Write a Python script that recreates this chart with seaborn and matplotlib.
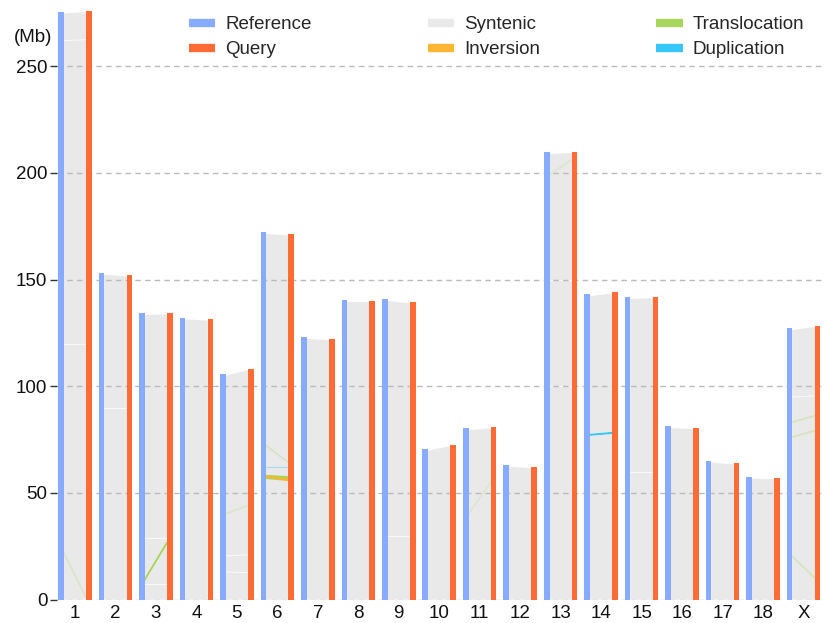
import matplotlib
matplotlib.use("Agg")
import matplotlib.pyplot as plt
from matplotlib.lines import Line2D
import seaborn as sns
import pandas as pd

# Chromosome lengths (Mb) of the two assemblies
chroms = ["1", "2", "3", "4", "5", "6", "7", "8", "9", "10",
          "11", "12", "13", "14", "15", "16", "17", "18", "X"]
ref_len = [275.6, 153.1, 134.2, 132.2, 105.8, 172.2, 123.1, 140.3, 140.8, 70.6,
           80.3, 63.1, 209.7, 143.1, 141.7, 81.2, 65.0, 57.5, 127.2]
qry_len = [276.0, 152.2, 134.4, 131.4, 108.1, 171.3, 122.2, 140.0, 139.5, 72.6,
           80.8, 62.2, 210.0, 144.1, 141.9, 80.6, 64.0, 57.0, 128.4]

# Structural variant links: chromosome, ref start, ref end, query start, query end, type
sv_chrom = ["3", "6", "6", "6", "14", "1", "6", "13", "X", "X", "X", "11", "5"]
sv_ref0 = [9.0, 56.8, 57.6, 62.0, 77.1, 22.0, 72.0, 199.0, 20.0, 76.0, 83.0, 40.0, 40.0]
sv_ref1 = [9.4, 58.2, 58.0, 62.3, 77.4, 22.4, 72.4, 199.4, 20.4, 76.4, 83.4, 40.4, 40.4]
sv_qry0 = [26.7, 55.9, 55.8, 62.0, 78.0, 0.5, 64.0, 206.0, 10.0, 79.0, 86.0, 55.0, 44.0]
sv_qry1 = [27.1, 57.6, 56.4, 62.3, 78.3, 0.9, 64.4, 206.4, 10.4, 79.4, 86.4, 55.4, 44.4]
sv_type = ["Translocation", "Translocation", "Inversion", "Duplication", "Duplication",
           "Translocation", "Translocation", "Translocation", "Translocation",
           "Translocation", "Translocation", "Translocation", "Translocation"]
sv_alpha = [1.0, 1.0, 1.0, 0.35, 1.0, 0.18, 0.18, 0.12, 0.2, 0.18, 0.18, 0.12, 0.12]

# Small unaligned gaps inside the syntenic blocks (chromosome, ref pos, query pos)
gap_chrom = ["3", "3", "5", "5", "1", "1", "2", "9", "13", "13", "15", "X"]
gap_ref = [7.3, 28.9, 13.0, 20.5, 262.0, 120.0, 90.0, 30.0, 150.0, 100.0, 60.0, 95.0]
gap_qry = [7.3, 28.9, 12.6, 21.0, 262.5, 120.0, 90.0, 30.0, 150.0, 100.0, 60.0, 95.5]

colors = {
    "Reference": "#86abff",
    "Query": "#ff6b35",
    "Syntenic": "#e9e9e9",
    "Inversion": "#ffb432",
    "Translocation": "#a8d65a",
    "Duplication": "#34c8f8",
}

sns.set_theme(style="white")
plt.rcParams["font.family"] = ["Liberation Sans", "DejaVu Sans"]

fig = plt.figure(figsize=(8.29, 6.23), dpi=100)
ax = fig.add_axes([57 / 829, 23.4 / 623, 768 / 829, 593 / 623])

df = pd.DataFrame({
    "chrom": chroms * 2,
    "length": ref_len + qry_len,
    "genome": ["Reference"] * len(chroms) + ["Query"] * len(chroms),
})

sns.barplot(data=df, x="chrom", y="length", hue="genome", order=chroms,
            hue_order=["Reference", "Query"],
            palette=[colors["Reference"], colors["Query"]], saturation=1,
            width=1.38, gap=0.8, dodge=True, legend=False, ax=ax,
            edgecolor="none", linewidth=0)
for p in ax.patches:
    p.set_zorder(3)

off = 0.345
half = 0.065
xl = {c: i - off + half for i, c in enumerate(chroms)}
xr = {c: i + off - half for i, c in enumerate(chroms)}

# syntenic blocks between the two assemblies
for c, r, q in zip(chroms, ref_len, qry_len):
    ax.fill([xl[c], xr[c], xr[c], xl[c]], [0, 0, q - 0.6, r - 0.8],
            color=colors["Syntenic"], lw=0, zorder=0.8)

for c, r, q in zip(gap_chrom, gap_ref, gap_qry):
    ax.plot([xl[c], xr[c]], [r, q], color="white", lw=0.8, alpha=0.7, zorder=0.9)

# structural variant links
for c, r0, r1, q0, q1, t, a in zip(sv_chrom, sv_ref0, sv_ref1, sv_qry0, sv_qry1,
                                   sv_type, sv_alpha):
    ax.fill([xl[c], xr[c], xr[c], xl[c]], [r0, q0, q1, r1],
            color=colors[t], lw=0.9, edgecolor=colors[t], alpha=a, zorder=1.2)

ax.set_xlim(-0.443, 18.53)
ax.set_ylim(0, 278)
ax.set_yticks([0, 50, 100, 150, 200, 250])
ax.set_axisbelow("line")
ax.yaxis.grid(True, color="#bbbbbb", linestyle=(0, (4, 3)), lw=1.0)
ax.xaxis.grid(False)
for s in ax.spines.values():
    s.set_visible(False)
ax.tick_params(axis="y", which="major", left=True, length=5, width=1.0,
               color="#333333", labelsize=13.5, labelcolor="#111111", pad=2)
ax.tick_params(axis="x", bottom=False, length=0, labelsize=13.5,
               labelcolor="#111111", pad=4)
ax.set_xlabel("")
ax.set_ylabel("")

fig.text(33 / 829, 1 - 37 / 623, "(Mb)", ha="center", va="center",
         fontsize=13.5, color="#111111")

handles = [Line2D([], [], color=colors[k], lw=6, solid_capstyle="butt")
           for k in ["Reference", "Query", "Syntenic", "Inversion",
                     "Translocation", "Duplication"]]
labels = ["Reference", "Query", "Syntenic", "Inversion", "Translocation", "Duplication"]
fig.legend(handles, labels, ncol=3, frameon=False, fontsize=13.5,
           loc="upper left", bbox_to_anchor=(189 / 829, 1 - 16 / 623),
           handlelength=1.4, handletextpad=0.53, columnspacing=6.2,
           labelspacing=0.42, borderaxespad=0, borderpad=0)

fig.savefig("out.png", dpi=100)
